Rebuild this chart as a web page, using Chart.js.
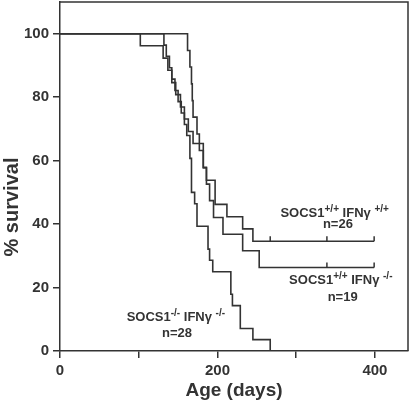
<!DOCTYPE html>
<html>
<head>
<meta charset="utf-8">
<script src="https://cdn.jsdelivr.net/npm/chart.js@4/dist/chart.umd.min.js"></script>
<style>
html,body{margin:0;padding:0;background:#fff;}
#wrap{width:410px;height:404px;position:relative;}
</style>
</head>
<body>
<div id="wrap"><canvas id="c" width="410" height="404"></canvas></div>
<script>
// ---- data ----
// SOCS1+/+ IFNγ+/+ (n=26)
const daysA = [0, 102, 131, 137, 142, 147, 153, 158, 163, 169, 182, 186, 197, 212, 232, 245, 399];
const survA = [100, 96.2, 92.3, 88.5, 84.6, 80.8, 76.9, 73.1, 69.2, 65.4, 57.7, 53.8, 46.2, 42.3, 38.5, 34.6, 34.6];
// SOCS1+/+ IFNγ-/- (n=19)
const daysB = [0, 162, 165, 167, 168, 169, 174, 177, 182, 186, 190, 195, 207, 232, 253, 399];
const survB = [100, 94.7, 89.5, 84.2, 78.9, 73.7, 68.4, 63.2, 57.9, 52.6, 47.4, 42.1, 36.8, 31.6, 26.3, 26.3];
// SOCS1-/- IFNγ-/- (n=28)
const daysC = [0, 132, 135, 139, 142, 146, 150, 154, 158, 161, 165, 167, 171, 174, 188, 190, 194, 217, 219, 229, 245, 267];
const survC = [100, 96.4, 92.9, 89.3, 85.7, 82.1, 78.6, 75.0, 71.4, 67.9, 60.7, 50.0, 46.4, 39.3, 32.1, 28.6, 25.0, 17.9, 14.3, 7.1, 3.6, 0];
// censored observations
const censorDaysA = [267, 339, 399];
const censorSurvA = [34.6, 34.6, 34.6];
const censorDaysB = [339, 399];
const censorSurvB = [26.3, 26.3];
// ticks
const xTickValues = [0, 100, 200, 300, 400];
const xTickLabels = ['0', '', '200', '', '400'];
const yTickValues = [0, 20, 40, 60, 80, 100];
const yTickLabels = ['0', '20', '40', '60', '80', '100'];
// texts
const xTitle = 'Age (days)';
const yTitle = '% survival';
const labelA = ['SOCS1', '+/+', ' IFNγ ', '+/+'];
const labelB = ['SOCS1', '+/+', ' IFNγ ', '-/-'];
const labelC = ['SOCS1', '-/-', ' IFNγ ', '-/-'];
const countA = 'n=26';
const countB = 'n=19';
const countC = 'n=28';

// ---- drawing ----
const INK = '#333333';
const FONT = '"Liberation Sans", Arial, Helvetica, sans-serif';

function pts(d, s) { return d.map((v, i) => ({ x: v, y: s[i] })); }

const annotations = [
  { parts: labelA, count: countA, x: 280, y: 42.3, cx: 353, cy: 38.7 },
  { parts: labelB, count: countB, x: 291, y: 21.2, cx: 359, cy: 15.9 },
  { parts: labelC, count: countC, x: 84.7, y: 9.5, cx: 148.6, cy: 4.5 }
];
const censors = [
  { d: censorDaysA, s: censorSurvA },
  { d: censorDaysB, s: censorSurvB }
];

const extras = {
  id: 'extras',
  afterDraw(chart) {
    const ctx = chart.ctx, xs = chart.scales.x, ys = chart.scales.y, a = chart.chartArea;
    ctx.save();
    // frame (top / right)
    ctx.strokeStyle = INK; ctx.lineWidth = 1.5;
    ctx.beginPath();
    ctx.moveTo(a.left, a.top); ctx.lineTo(a.right, a.top); ctx.lineTo(a.right, a.bottom);
    ctx.stroke();
    // censor ticks
    ctx.lineWidth = 1.5;
    censors.forEach(c => {
      c.d.forEach((d, i) => {
        const px = xs.getPixelForValue(d), py = ys.getPixelForValue(c.s[i]);
        ctx.beginPath(); ctx.moveTo(px, py); ctx.lineTo(px, py - 5); ctx.stroke();
      });
    });
    // annotations
    ctx.fillStyle = INK;
    ctx.textBaseline = 'alphabetic';
    annotations.forEach(an => {
      let px = xs.getPixelForValue(an.x);
      const py = ys.getPixelForValue(an.y);
      an.parts.forEach((t, i) => {
        const sup = i % 2 === 1;
        ctx.font = sup ? 'bold 10px ' + FONT : 'bold 13px ' + FONT;
        ctx.textAlign = 'left';
        ctx.fillText(t, px, sup ? py - 5 : py);
        px += ctx.measureText(t).width;
      });
      ctx.font = 'bold 13px ' + FONT;
      ctx.textAlign = 'center';
      ctx.fillText(an.count, xs.getPixelForValue(an.cx), ys.getPixelForValue(an.cy));
    });
    // y title
    ctx.translate(18, 207);
    ctx.rotate(-Math.PI / 2);
    ctx.font = 'bold 20px ' + FONT;
    ctx.textAlign = 'center';
    ctx.textBaseline = 'alphabetic';
    ctx.fillText(yTitle, 0, 0);
    ctx.restore();
  }
};

const lineStyle = { borderColor: INK, borderWidth: 1.6, pointRadius: 0, stepped: true, fill: false, tension: 0 };

new Chart(document.getElementById('c'), {
  type: 'line',
  data: {
    datasets: [
      Object.assign({ label: 'A', data: pts(daysA, survA) }, lineStyle),
      Object.assign({ label: 'B', data: pts(daysB, survB) }, lineStyle),
      Object.assign({ label: 'C', data: pts(daysC, survC) }, lineStyle)
    ]
  },
  options: {
    responsive: false,
    animation: false,
    layout: { padding: { top: 2, right: 2, left: 0, bottom: 0 } },
    plugins: { legend: { display: false }, tooltip: { enabled: false } },
    scales: {
      x: {
        type: 'linear', min: 0, max: 442,
        afterBuildTicks: s => { s.ticks = xTickValues.map(v => ({ value: v })); },
        afterFit: s => { s.height = 53; s.paddingLeft = 0; s.paddingRight = 0; },
        ticks: {
          autoSkip: false, maxRotation: 0, padding: 4, color: INK,
          font: { family: FONT, size: 15, weight: 'bold' },
          callback: (v) => { const i = xTickValues.indexOf(v); return i < 0 ? '' : xTickLabels[i]; }
        },
        grid: { drawOnChartArea: false, drawTicks: true, tickLength: 7, color: INK, lineWidth: 1.5 },
        border: { display: true, color: INK, width: 1.5 },
        title: { display: true, text: xTitle, color: INK, font: { family: FONT, size: 19, weight: 'bold' }, padding: { top: 2, bottom: 2 } }
      },
      y: {
        type: 'linear', min: 0, max: 110,
        afterBuildTicks: s => { s.ticks = yTickValues.map(v => ({ value: v })); },
        afterFit: s => { s.width = 60; s.paddingTop = 0; s.paddingBottom = 0; },
        ticks: {
          autoSkip: false, padding: 4, color: INK,
          font: { family: FONT, size: 15, weight: 'bold' },
          callback: (v) => { const i = yTickValues.indexOf(v); return i < 0 ? '' : yTickLabels[i]; }
        },
        grid: { drawOnChartArea: false, drawTicks: true, tickLength: 7, color: INK, lineWidth: 1.5 },
        border: { display: true, color: INK, width: 1.5 }
      }
    }
  },
  plugins: [extras]
});
</script>
</body>
</html>
